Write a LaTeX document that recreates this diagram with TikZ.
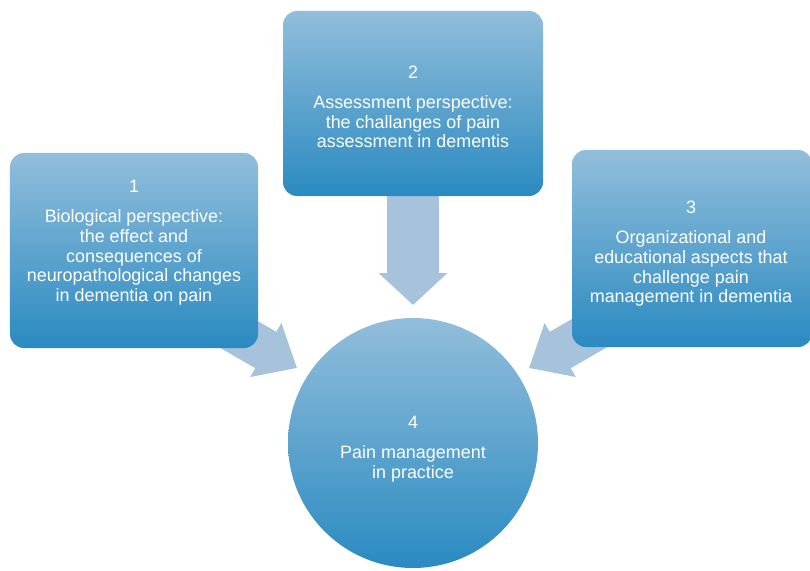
\documentclass[tikz,border=0pt]{standalone}
\usepackage{fontspec}
\setmainfont{Liberation Sans}
\usetikzlibrary{arrows.meta}
\definecolor{arrowc}{RGB}{167,195,220}
\definecolor{boxtop}{RGB}{146,190,219}
\definecolor{boxbot}{RGB}{42,138,193}
\begin{document}
\begin{tikzpicture}[x=1bp,y=-1bp,
  panel/.style={draw=none, rounded corners=14bp, top color=boxtop, bottom color=boxbot, inner sep=0pt},
  disc/.style={circle, draw=none, top color=boxtop, bottom color=boxbot, inner sep=0pt, minimum size=250bp},
  label/.style={text=white, align=center, font=\fontsize{18}{19.8}\selectfont},
  bigarrow/.style={draw=arrowc, line width=#1},
  ]
\useasboundingbox (0,0) rectangle (810,571);
\clip (0,0) rectangle (810,571);
% arrow end points
\coordinate (s1) at (200,312);
\coordinate (t1) at (297,368);
\coordinate (s2) at (413,190);
\coordinate (t2) at (413,305);
\coordinate (s3) at (626,312);
\coordinate (t3) at (529,368);
% arrows (beneath the boxes)
\draw[bigarrow=42bp, -{Triangle[width=60bp,length=36bp]}] (s1) -- (t1);
\draw[bigarrow=42bp, -{Triangle[width=60bp,length=36bp]}] (s3) -- (t3);
\draw[bigarrow=52bp, -{Triangle[width=67bp,length=32bp]}] (s2) -- (t2);
% boxes
\node[panel, minimum width=248bp, minimum height=195bp] (b1) at (134,250.5) {};
\node[panel, minimum width=260bp, minimum height=185bp] (b2) at (413,103.5) {};
\node[panel, minimum width=240bp, minimum height=197bp] (b3) at (692,248.5) {};
\node[disc] (c4) at (413,443) {};
% texts
\node[label] (l1) at (134,243) {1\\[10bp]Biological perspective:\\the effect and\\consequences of\\neuropathological changes\\in dementia on pain};
\node[label] (l2) at (413,107) {2\\[10bp]Assessment perspective:\\the challanges of pain\\assessment in dementis};
\node[label] (l3) at (691,254) {3\\[10bp]Organizational and\\educational aspects that\\challenge pain\\management in dementia};
\node[label] (l4) at (413,449) {4\\[10bp]Pain management\\in practice};
\end{tikzpicture}
\end{document}
